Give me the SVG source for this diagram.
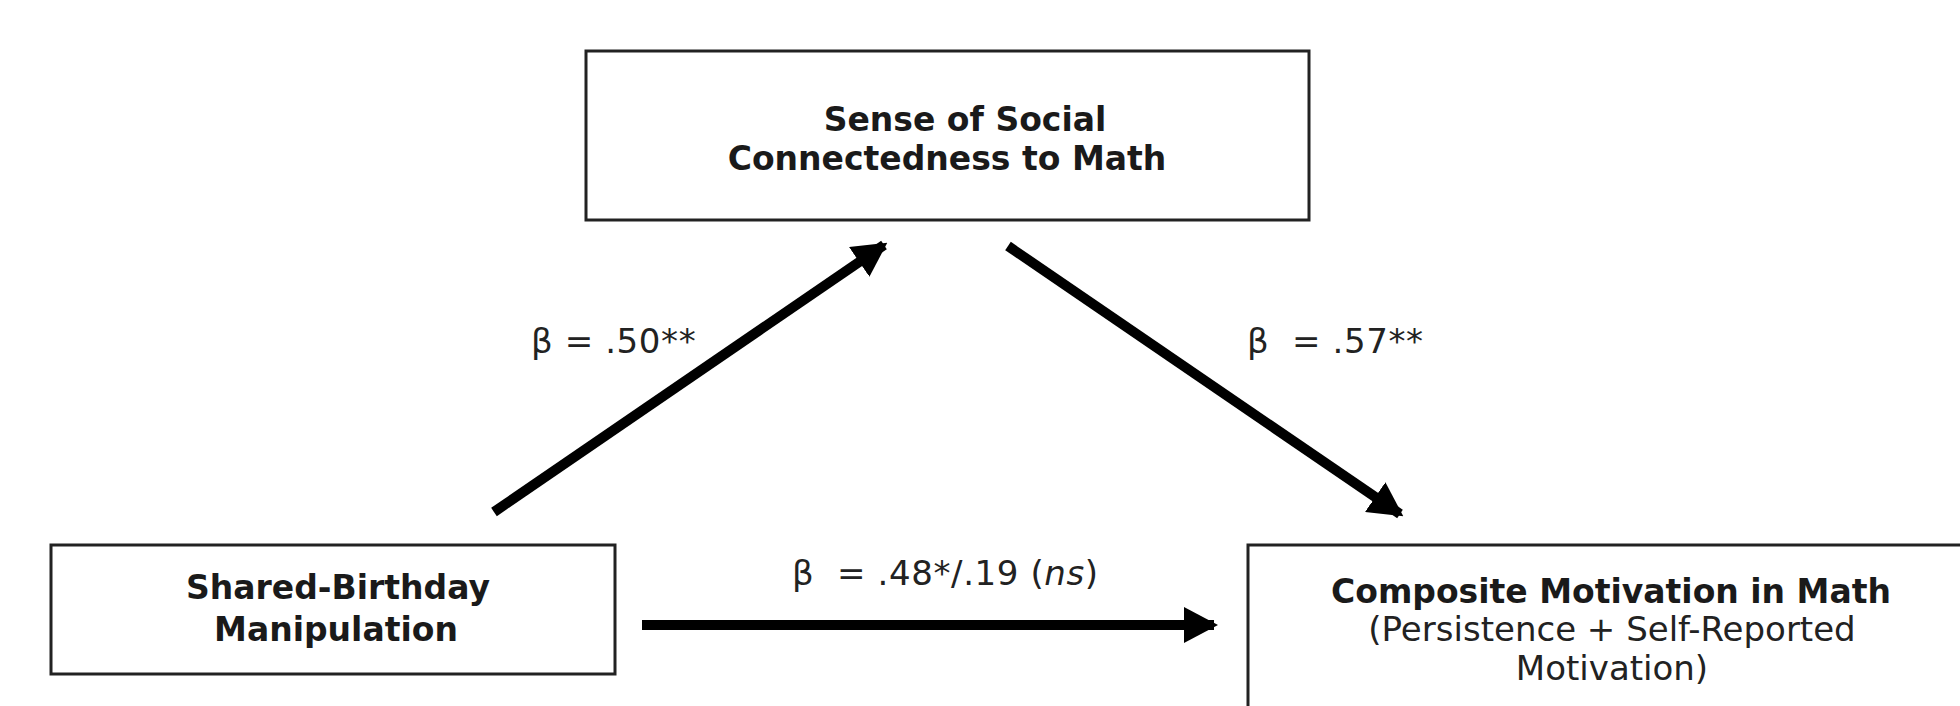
<svg xmlns="http://www.w3.org/2000/svg" width="1960" height="706" viewBox="0 0 1960 706">
<style>
.box{fill:#fff;stroke:#222;stroke-width:3}
.b{font-family:"DejaVu Sans",Verdana,sans-serif;font-weight:bold;font-size:33px;fill:#1a1a1a;text-anchor:middle}
.r{font-family:"DejaVu Sans",Verdana,sans-serif;font-size:34px;fill:#222}
.rc{text-anchor:middle}
.lab{letter-spacing:0.6px}
.conn{stroke:#000;stroke-width:10;fill:none;marker-end:url(#ah)}
</style>
<defs>
<marker id="ah" markerUnits="userSpaceOnUse" viewBox="0 0 34 36" refX="30" refY="18" markerWidth="34" markerHeight="36" orient="auto">
<path d="M0,0 L34,18 L0,36 Z" fill="#000"/>
</marker>
</defs>
<rect width="1960" height="706" fill="#fff"/>
<g id="connectors">
<line class="conn" x1="494" y1="512" x2="884" y2="245"/>
<line class="conn" x1="1008" y1="246" x2="1400" y2="514"/>
<line class="conn" x1="642" y1="625" x2="1214" y2="625"/>
</g>
<g id="node-social">
<rect class="box" x="586" y="51" width="723" height="169"/>
<text class="b" x="965" y="131">Sense of Social</text>
<text class="b" x="947" y="170">Connectedness to Math</text>
</g>
<g id="node-birthday">
<rect class="box" x="51" y="545" width="564" height="129"/>
<text class="b" x="338" y="599">Shared-Birthday</text>
<text class="b" x="336" y="641">Manipulation</text>
</g>
<g id="node-motivation">
<rect class="box" x="1248" y="545" width="760" height="220"/>
<text class="b" x="1611" y="603">Composite Motivation in Math</text>
<text class="r rc" x="1612" y="641">(Persistence + Self-Reported</text>
<text class="r rc" x="1612" y="680">Motivation)</text>
</g>
<g id="labels">
<text class="r lab" x="531" y="353" xml:space="preserve">β = .50**</text>
<text class="r lab" x="1247" y="353" xml:space="preserve">β  = .57**</text>
<text class="r lab" x="792" y="585" xml:space="preserve">β  = .48*/.19 (<tspan font-style="italic">ns</tspan>)</text>
</g>
</svg>
